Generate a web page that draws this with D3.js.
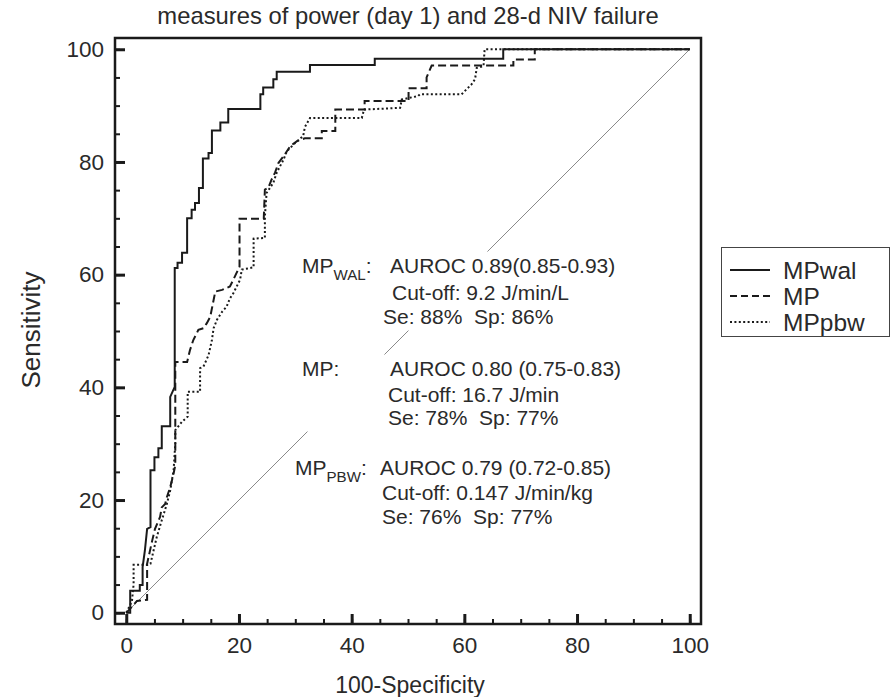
<!DOCTYPE html>
<html><head><meta charset="utf-8">
<script src="https://cdn.jsdelivr.net/npm/d3@7"></script>
<style>body{margin:0;background:#fff}text{font-family:"Liberation Sans",Arial,sans-serif;fill:#2a2a2a;white-space:pre}</style>
</head><body><svg id="c" width="892" height="697"></svg>
<script>
const title = "measures of power (day 1) and 28-d NIV failure";
const xLabel = "100-Specificity";
const yLabel = "Sensitivity";
const xTicks = [0, 20, 40, 60, 80, 100];
const yTicks = [0, 20, 40, 60, 80, 100];
const minorTicks = d3.range(0, 101, 5);
const seriesNames = ["MPwal", "MP", "MPpbw"];

// ROC step curves: [100-Specificity, Sensitivity]
const mpwal = [[0,0],[0.7,0],[0.7,3.9],[2.4,3.9],[2.4,4.9],[2.9,4.9],[2.9,8.1],[3.3,11],[3.7,14.9],[4.3,15.2],[4.3,25.3],[5.0,25.3],[5.0,27.6],[5.7,27.6],[5.7,29.2],[6.3,29.2],[6.3,33.1],[7.8,33.1],[7.8,38.3],[8.6,40.1],[8.6,61.2],[9.1,61.2],[9.1,62.1],[9.9,62.1],[9.9,63.9],[10.8,63.9],[10.8,70.0],[11.6,70.0],[11.6,71.5],[12.2,71.5],[12.2,72.7],[12.9,72.7],[12.9,75.4],[13.6,75.4],[13.6,80.6],[14.6,80.6],[14.6,81.6],[15.2,81.6],[15.2,85.6],[16.7,85.6],[16.7,87.0],[18.1,87.0],[18.1,89.4],[23.8,89.4],[23.8,92.0],[24.3,92.0],[24.3,93.2],[26.1,93.2],[26.1,94.7],[26.7,94.7],[26.7,96.0],[32.6,96.0],[32.6,97.2],[44.1,97.2],[44.1,98.3],[66.9,98.3],[66.9,100],[100,100]];
const mp = [[0,0],[0.4,0.4],[1.3,1.4],[1.9,2.1],[3.7,2.3],[3.7,8.7],[4.6,12.8],[5.1,14.9],[6.0,17.0],[6.3,18.7],[6.9,19.3],[7.2,20.5],[7.8,22.3],[8.4,24.7],[8.7,26.2],[8.7,44.5],[10.8,44.5],[11.3,46.6],[11.9,48.4],[12.8,50.2],[13.7,50.5],[14.3,51.4],[14.9,52.5],[15.5,55.5],[15.8,57.0],[17.0,57.3],[18.4,57.9],[19.0,59.1],[20.1,61.4],[20.1,69.9],[24.4,69.9],[24.6,75.1],[25.2,75.4],[25.8,76.9],[26.4,78.1],[27.0,79.8],[27.9,81.0],[29.1,82.8],[30.3,83.7],[31.7,84.2],[34.7,84.2],[34.7,85.5],[37.1,85.5],[37.1,89.3],[42.3,89.3],[42.3,90.8],[50.1,90.8],[50.1,93.1],[53.3,93.1],[53.3,95.0],[54.2,97.1],[68.7,97.1],[68.7,98.2],[72.5,98.2],[72.5,100],[100,100]];
const mppbw = [[0,0],[0.5,1],[1.0,2],[1.3,5],[1.3,8.5],[3.8,8.5],[4.3,8.7],[5.4,13.4],[6.3,16.4],[7.2,19.3],[7.8,21.7],[8.4,25.3],[8.7,30],[8.7,32.4],[9.9,33.9],[10.9,34.8],[10.9,39.2],[13.1,39.2],[13.1,43.4],[13.7,43.7],[14.6,45.7],[15.2,48.4],[15.5,50.5],[16.1,52.0],[17.0,53.4],[17.8,54.3],[18.4,55.8],[19.0,56.7],[19.6,57.9],[20.2,59.1],[20.5,60.9],[22.6,61.3],[22.6,66.4],[24.6,66.5],[24.6,70.3],[24.9,74.5],[26.1,76.3],[26.7,78.1],[27.9,80.4],[28.5,81.9],[30.0,83.4],[31.4,84.6],[31.7,86.2],[32.6,87.8],[41.8,87.8],[42.2,89.3],[48.6,89.6],[48.9,91.1],[51.8,91.7],[52.1,92.0],[59.5,92.0],[60.4,92.9],[61.3,93.8],[61.9,94.7],[62.2,96.7],[63.4,97.0],[63.6,100],[100,100]];
const diagonal = [[0,0],[100,100]];

const annoWal = ["AUROC 0.89(0.85-0.93)", "Cut-off: 9.2 J/min/L", "Se: 88%  Sp: 86%"];
const annoMp = ["AUROC 0.80 (0.75-0.83)", "Cut-off: 16.7 J/min", "Se: 78%  Sp: 77%"];
const annoPbw = ["AUROC 0.79 (0.72-0.85)", "Cut-off: 0.147 J/min/kg", "Se: 76%  Sp: 77%"];

const svg = d3.select("#c");
const L = 115, R = 701, T = 38, B = 624;
const x = d3.scaleLinear().domain([-2, 102]).range([L, R]);
const y = d3.scaleLinear().domain([-2, 102]).range([B, T]);
const ink = "#1a1a1a";

// diagonal
svg.append("path").attr("d", d3.line().x(d => x(d[0])).y(d => y(d[1]))(diagonal))
  .attr("stroke", "#8a8a8a").attr("stroke-width", 1).attr("fill", "none");

// annotation blocks with white background
function block(items, fs) {
  const g = svg.append("g");
  const bgRect = g.append("rect").attr("fill", "#fff");
  let x0 = Infinity, y0 = Infinity, x1 = -Infinity, y1 = -Infinity;
  items.forEach(it => {
    const t = g.append("text").attr("x", it.x).attr("y", it.y).attr("font-size", fs).attr("dy", "0.36em");
    it.parts.forEach(p => {
      const ts = t.append("tspan").text(p.t);
      if (p.sub) ts.attr("font-size", fs * 0.72).attr("dy", fs * 0.35);
      if (p.after) ts.attr("dy", -fs * 0.35);
    });
    const b = t.node().getBBox();
    x0 = Math.min(x0, b.x); y0 = Math.min(y0, b.y);
    x1 = Math.max(x1, b.x + b.width); y1 = Math.max(y1, b.y + b.height);
  });
  bgRect.attr("x", x0 - 3).attr("y", y0 - 2).attr("width", x1 - x0 + 6).attr("height", y1 - y0 + 5);
}
const AF = 21;
block([
  {x: 302, y: 265, parts: [{t:"MP"},{t:"WAL",sub:true},{t:":",after:true}]},
  {x: 390, y: 265, parts: [{t:annoWal[0]}]},
  {x: 392, y: 292, parts: [{t:annoWal[1]}]},
  {x: 383, y: 316, parts: [{t:annoWal[2]}]}
], AF);
block([
  {x: 302, y: 368, parts: [{t:"MP:"}]},
  {x: 390, y: 368, parts: [{t:annoMp[0]}]},
  {x: 388, y: 394, parts: [{t:annoMp[1]}]},
  {x: 388, y: 417, parts: [{t:annoMp[2]}]}
], AF);
block([
  {x: 295, y: 467, parts: [{t:"MP"},{t:"PBW",sub:true},{t:":",after:true}]},
  {x: 380, y: 467, parts: [{t:annoPbw[0]}]},
  {x: 382, y: 492, parts: [{t:annoPbw[1]}]},
  {x: 382, y: 516, parts: [{t:annoPbw[2]}]}
], AF);

// curves
const styles = [{d: mpwal, dash: null}, {d: mp, dash: "8,4"}, {d: mppbw, dash: "2,2.4"}];
const line = d3.line().x(d => x(d[0])).y(d => y(d[1]));
styles.forEach(s => {
  svg.append("path").attr("d", line(s.d)).attr("fill", "none").attr("stroke", ink)
    .attr("stroke-width", 2).attr("stroke-dasharray", s.dash);
});

// axes
const TF = 22.5;
const ff = '"Liberation Sans",Arial,sans-serif';
const gx = svg.append("g").attr("transform", `translate(0,${B})`);
gx.call(d3.axisBottom(x).tickValues(minorTicks).tickSize(-5).tickFormat(""));
gx.selectAll("line").attr("stroke", ink).attr("stroke-width", 2);
const gx2 = svg.append("g").attr("transform", `translate(0,${B})`);
gx2.call(d3.axisBottom(x).tickValues(xTicks).tickSize(-10).tickPadding(13).tickFormat(d3.format("d")));
gx2.selectAll("line").attr("stroke", ink).attr("stroke-width", 3);
gx2.selectAll("text").attr("font-size", TF).attr("fill", "#2a2a2a").style("font-family", ff);
gx.select(".domain").remove(); gx2.select(".domain").remove();

const gy = svg.append("g").attr("transform", `translate(${L},0)`);
gy.call(d3.axisLeft(y).tickValues(minorTicks).tickSize(-5).tickFormat(""));
gy.selectAll("line").attr("stroke", ink).attr("stroke-width", 2);
const gy2 = svg.append("g").attr("transform", `translate(${L},0)`);
gy2.call(d3.axisLeft(y).tickValues(yTicks).tickSize(-10).tickPadding(11).tickFormat(d3.format("d")));
gy2.selectAll("line").attr("stroke", ink).attr("stroke-width", 3);
gy2.selectAll("text").attr("font-size", TF).attr("fill", "#2a2a2a").style("font-family", ff);
gy.select(".domain").remove(); gy2.select(".domain").remove();

// frame
svg.append("rect").attr("x", L).attr("y", T).attr("width", R - L).attr("height", B - T)
  .attr("fill", "none").attr("stroke", ink).attr("stroke-width", 2.5);

// titles
svg.append("text").attr("x", 408).attr("y", 15).attr("dy", "0.36em").attr("text-anchor", "middle").attr("font-size", 23.8).text(title);
svg.append("text").attr("x", 410).attr("y", 685).attr("dy", "0.36em").attr("text-anchor", "middle").attr("font-size", 23).text(xLabel);
svg.append("text").attr("transform", "translate(31,330) rotate(-90)").attr("dy", "0.36em").attr("text-anchor", "middle").attr("font-size", 26).text(yLabel);

// legend
const lg = svg.append("g");
lg.append("rect").attr("x", 721.5).attr("y", 247.5).attr("width", 168).attr("height", 89).attr("fill", "#fff").attr("stroke", "#444").attr("stroke-width", 1);
const legDash = [null, "7,4", "2,2.4"];
seriesNames.forEach((n, i) => {
  const ly = 270 + i * 26;
  lg.append("line").attr("x1", 730).attr("x2", 770).attr("y1", ly).attr("y2", ly).attr("stroke", ink).attr("stroke-width", 2).attr("stroke-dasharray", legDash[i]);
  lg.append("text").attr("x", 783).attr("y", ly).attr("dy", "0.36em").attr("font-size", 24.5).text(n);
});
</script></body></html>
